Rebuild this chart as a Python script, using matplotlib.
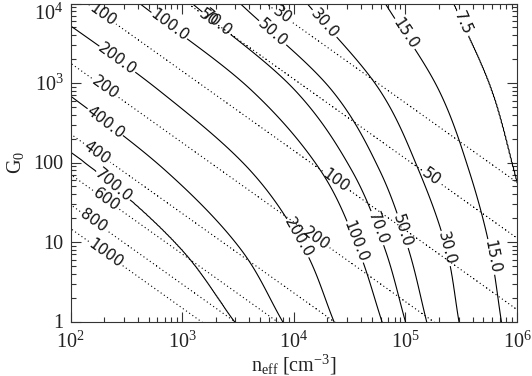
import numpy as np
import matplotlib
matplotlib.use("Agg")
import matplotlib.pyplot as plt
from matplotlib.ticker import NullFormatter, LogLocator

plt.rcParams['font.family'] = ['Liberation Serif', 'DejaVu Serif']
plt.rcParams['mathtext.fontset'] = 'custom'
plt.rcParams['mathtext.rm'] = 'Liberation Serif'
plt.rcParams['mathtext.it'] = 'Liberation Serif:italic'

# solid contours: level values and log10(n_eff) where each one crosses the rows of log10(G0)
t_levels = [700.0, 400.0, 200.0, 100.0, 70.0, 50.0, 30.0, 15.0, 7.5]
logg_rows = [0.0, 0.9, 1.9, 2.91, 4.0]
logn_700 = [3.47, 3.00, 2.22, 1.20, 0.10]
logn_400 = [3.90, 3.53, 2.85, 1.93, 0.85]
logn_200 = [4.36, 4.10, 3.61, 2.79, 1.72]
logn_100 = [4.79, 4.58, 4.24, 3.62, 2.62]
logn_70 = [5.00, 4.82, 4.52, 4.01, 3.09]
logn_50 = [5.19, 5.03, 4.77, 4.34, 3.52]
logn_30 = [5.48, 5.37, 5.12, 4.77, 4.12]
logn_15 = [5.86, 5.76, 5.57, 5.30, 4.82]
logn_7p5 = [6.25, 6.15, 5.97, 5.77, 5.43]
logn_table = [logn_700, logn_400, logn_200, logn_100, logn_70,
              logn_50, logn_30, logn_15, logn_7p5]

# dotted contours: straight lines, log10(G0) + log10(n_eff) of each level
q_levels = [1000, 800, 600, 400, 200, 100, 50, 30]
q_logsum = [3.17, 3.47, 3.85, 4.36, 5.25, 6.15, 7.05, 7.75]


def hermite(xk, yk, x):
    # smooth curve through the read-off points
    xk = np.asarray(xk, float)
    yk = np.asarray(yk, float)
    h = np.diff(xk)
    d = np.diff(yk) / h
    m = np.empty_like(yk)
    m[0] = d[0]
    m[-1] = d[-1]
    m[1:-1] = (d[:-1] * h[1:] + d[1:] * h[:-1]) / (h[:-1] + h[1:])
    i = np.clip(np.searchsorted(xk, x) - 1, 0, len(xk) - 2)
    t = (x - xk[i]) / h[i]
    h00 = 2 * t**3 - 3 * t**2 + 1
    h10 = t**3 - 2 * t**2 + t
    h01 = -2 * t**3 + 3 * t**2
    h11 = t**3 - t**2
    return h00 * yk[i] + h10 * h[i] * m[i] + h01 * yk[i + 1] + h11 * h[i] * m[i + 1]


# build the fields on a fine grid
X = np.linspace(1.9, 6.1, 421)
Y = np.linspace(-0.1, 4.1, 421)
XX, YY = np.meshgrid(X, Y)

tracks = [hermite(logg_rows, row, Y) for row in logn_table]

logt = list(np.log10(t_levels))
tfield = np.zeros_like(XX)
for j in range(len(Y)):
    knots = [tr[j] for tr in tracks]
    tfield[j] = np.interp(X, [-10.0] + knots + [20.0],
                          [logt[0] + 1.0] + logt + [logt[-1] - 1.0])

logq = list(np.log10(q_levels))
qfield = np.interp(XX + YY, [-10.0] + q_logsum + [20.0],
                   [logq[0] + 2.0] + logq + [logq[-1] - 2.0])

N = 10 ** XX
G = 10 ** YY

fig = plt.figure(figsize=(5.32, 3.76), dpi=100)
ax = fig.add_axes([70.5 / 532, 1 - 321.5 / 376, 446.5 / 532, 318 / 376])
ax.set_xscale('log')
ax.set_yscale('log')

t_lv = sorted(logt)
cs = ax.contour(N, G, tfield, levels=t_lv, colors='k', linewidths=0.8,
                linestyles='solid')
q_lv = sorted(logq)
cq = ax.contour(N, G, qfield, levels=q_lv, colors='k', linewidths=0.8,
                linestyles=[(0, (1, 2.5))])

t_fmt = {lv: '%.1f' % (10 ** lv) for lv in t_lv}
q_fmt = {lv: '%d' % round(10 ** lv) for lv in q_lv}

t_pos = [(2.91, 3.77), (4.567, 1.01), (3.32, 3.77), (4.76, 1.18),
         (3.833, 3.667), (4.97, 1.14), (4.30, 3.78), (5.34, 0.91),
         (5.017, 3.64), (5.76, 0.81), (5.535, 3.77), (2.435, 3.33),
         (4.05, 1.06), (2.318, 2.52), (2.37, 1.69)]
q_pos = [(2.274, 3.83), (4.40, 1.82), (2.318, 2.962), (4.21, 1.06),
         (2.237, 2.12), (2.318, 1.528), (2.21, 1.277), (2.318, 0.874),
         (3.25, 3.84), (5.25, 1.84), (3.90, 3.855)]

lab_kw = dict(inline=True, fontsize=11, inline_spacing=4, colors='k')
tl = ax.clabel(cs, t_lv, fmt=t_fmt,
               manual=[(10 ** a, 10 ** b) for a, b in t_pos], **lab_kw)
ql = ax.clabel(cq, q_lv, fmt=q_fmt,
               manual=[(10 ** a, 10 ** b) for a, b in q_pos], **lab_kw)
for t in list(tl) + list(ql):
    t.set_family('DejaVu Sans')
    t.set_color('#111111')

ax.set_xlim(1e2, 1e6)
ax.set_ylim(1, 1e4)

ax.set_xticks([1e2, 1e3, 1e4, 1e5, 1e6],
              [r'$\mathrm{10^{2}}$', r'$\mathrm{10^{3}}$', r'$\mathrm{10^{4}}$',
               r'$\mathrm{10^{5}}$', r'$\mathrm{10^{6}}$'])
ax.set_yticks([1, 10, 100, 1e3, 1e4],
              ['1', '10', '100', r'$\mathrm{10^{3}}$', r'$\mathrm{10^{4}}$'])
ax.xaxis.set_minor_locator(LogLocator(base=10, subs=np.arange(2, 10)))
ax.yaxis.set_minor_locator(LogLocator(base=10, subs=np.arange(2, 10)))
ax.xaxis.set_minor_formatter(NullFormatter())
ax.yaxis.set_minor_formatter(NullFormatter())

ax.tick_params(which='both', direction='in', top=True, right=True,
               colors='#333333', labelcolor='#222222', labelsize=14.5)
ax.tick_params(which='major', length=7, width=0.8)
ax.tick_params(which='minor', length=3.5, width=0.8)
ax.tick_params(axis='x', pad=7)
ax.tick_params(axis='y', pad=5)
for s in ax.spines.values():
    s.set_linewidth(0.8)
    s.set_color('#333333')

# top y tick label sits below its tick, as in the reference
ax.get_yticklabels()[-1].set_verticalalignment('top')

ax.set_xlabel(r'$\mathrm{n_{eff}\ [cm^{-3}]}$', fontsize=14.5, color='#222222')
ax.xaxis.label.set_verticalalignment('center')
ax.xaxis.set_label_coords(0.5, -0.137)
ax.set_ylabel(r'$\mathrm{G_{0}}$', fontsize=14.5, color='#222222')
ax.yaxis.set_label_coords(-0.1, 0.5)

fig.savefig('out.png', dpi=100)
